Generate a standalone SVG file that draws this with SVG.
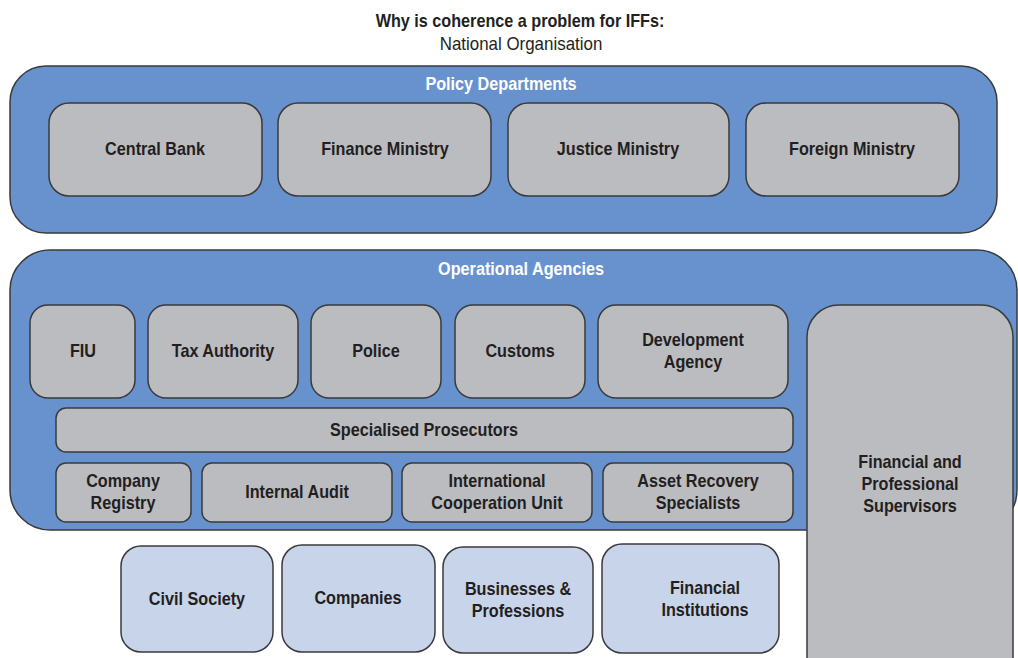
<svg xmlns="http://www.w3.org/2000/svg" width="1018" height="658" viewBox="0 0 1018 658">
  <style>
    .frame { fill: #6792CD; stroke: #3A3A3C; stroke-width: 1.5; }
    .unit { fill: #BBBCC0; stroke: #3A3A3C; stroke-width: 1.5; }
    .ext { fill: #C8D4EA; stroke: #3A3A3C; stroke-width: 1.5; }
    text { font-family: "Liberation Sans", Arial, sans-serif; font-size: 18px; font-weight: bold; fill: #231F20; text-anchor: middle; }
    .head { fill: #FFFFFF; }
    .sub { font-weight: normal; }
  </style>

  <!-- title -->
  <g id="title">
    <text transform="translate(520,27) scale(0.9,1)">Why is coherence a problem for IFFs:</text>
    <text class="sub" transform="translate(521,50) scale(0.94,1)">National Organisation</text>
  </g>

  <!-- policy level -->
  <g id="policy-departments">
    <rect class="frame" x="10" y="66" width="987" height="167" rx="36" ry="36"/>
    <text class="head" transform="translate(501,90) scale(0.9,1)">Policy Departments</text>
  </g>
  <g id="central-bank">
    <rect class="unit" x="49" y="103" width="213" height="93" rx="20" ry="20"/>
    <text transform="translate(155,155) scale(0.9,1)">Central Bank</text>
  </g>
  <g id="finance-ministry">
    <rect class="unit" x="278" y="103" width="213" height="93" rx="20" ry="20"/>
    <text transform="translate(385,155) scale(0.9,1)">Finance Ministry</text>
  </g>
  <g id="justice-ministry">
    <rect class="unit" x="508" y="103" width="221" height="93" rx="20" ry="20"/>
    <text transform="translate(618,155) scale(0.9,1)">Justice Ministry</text>
  </g>
  <g id="foreign-ministry">
    <rect class="unit" x="746" y="103" width="213" height="93" rx="20" ry="20"/>
    <text transform="translate(852,155) scale(0.9,1)">Foreign Ministry</text>
  </g>

  <!-- operational level -->
  <g id="operational-agencies">
    <rect class="frame" x="10" y="250" width="1007" height="280" rx="40" ry="40"/>
    <text class="head" transform="translate(521,275) scale(0.9,1)">Operational Agencies</text>
  </g>
  <g id="fiu">
    <rect class="unit" x="30" y="305" width="105" height="93" rx="18" ry="18"/>
    <text transform="translate(83,357) scale(0.9,1)">FIU</text>
  </g>
  <g id="tax-authority">
    <rect class="unit" x="148" y="305" width="150" height="93" rx="18" ry="18"/>
    <text transform="translate(223,357) scale(0.9,1)">Tax Authority</text>
  </g>
  <g id="police">
    <rect class="unit" x="311" y="305" width="130" height="93" rx="18" ry="18"/>
    <text transform="translate(376,357) scale(0.9,1)">Police</text>
  </g>
  <g id="customs">
    <rect class="unit" x="455" y="305" width="130" height="93" rx="18" ry="18"/>
    <text transform="translate(520,357) scale(0.9,1)">Customs</text>
  </g>
  <g id="development-agency">
    <rect class="unit" x="598" y="305" width="190" height="93" rx="18" ry="18"/>
    <text transform="translate(693,346) scale(0.9,1)"><tspan x="0" y="0">Development</tspan><tspan x="0" y="22">Agency</tspan></text>
  </g>
  <g id="specialised-prosecutors">
    <rect class="unit" x="56" y="408" width="737" height="44" rx="10" ry="10"/>
    <text transform="translate(424,436) scale(0.9,1)">Specialised Prosecutors</text>
  </g>
  <g id="company-registry">
    <rect class="unit" x="56" y="463" width="135" height="59" rx="10" ry="10"/>
    <text transform="translate(123,487) scale(0.9,1)"><tspan x="0" y="0">Company</tspan><tspan x="0" y="22">Registry</tspan></text>
  </g>
  <g id="internal-audit">
    <rect class="unit" x="202" y="463" width="190" height="59" rx="10" ry="10"/>
    <text transform="translate(297,498) scale(0.9,1)">Internal Audit</text>
  </g>
  <g id="international-cooperation-unit">
    <rect class="unit" x="402" y="463" width="190" height="59" rx="10" ry="10"/>
    <text transform="translate(497,487) scale(0.9,1)"><tspan x="0" y="0">International</tspan><tspan x="0" y="22">Cooperation Unit</tspan></text>
  </g>
  <g id="asset-recovery-specialists">
    <rect class="unit" x="603" y="463" width="190" height="59" rx="10" ry="10"/>
    <text transform="translate(698,487) scale(0.9,1)"><tspan x="0" y="0">Asset Recovery</tspan><tspan x="0" y="22">Specialists</tspan></text>
  </g>
  <g id="financial-professional-supervisors">
    <path class="unit" d="M807,670 V337 A32,32 0 0 1 839,305 H981 A32,32 0 0 1 1013,337 V670"/>
    <text transform="translate(910,468) scale(0.9,1)"><tspan x="0" y="0">Financial and</tspan><tspan x="0" y="22">Professional</tspan><tspan x="0" y="44">Supervisors</tspan></text>
  </g>

  <!-- outside actors -->
  <g id="civil-society">
    <rect class="ext" x="121" y="546" width="152" height="106" rx="20" ry="20"/>
    <text transform="translate(197,605) scale(0.9,1)">Civil Society</text>
  </g>
  <g id="companies">
    <rect class="ext" x="282" y="545" width="153" height="107" rx="20" ry="20"/>
    <text transform="translate(358,604) scale(0.9,1)">Companies</text>
  </g>
  <g id="businesses-professions">
    <rect class="ext" x="443" y="547" width="150" height="106" rx="20" ry="20"/>
    <text transform="translate(518,595) scale(0.9,1)"><tspan x="0" y="0">Businesses &amp;</tspan><tspan x="0" y="22">Professions</tspan></text>
  </g>
  <g id="financial-institutions">
    <rect class="ext" x="602" y="544" width="177" height="109" rx="20" ry="20"/>
    <text transform="translate(705,594) scale(0.9,1)"><tspan x="0" y="0">Financial</tspan><tspan x="0" y="22">Institutions</tspan></text>
  </g>

  <!-- no connectors are drawn between the groups -->
  <g id="connectors"/>
</svg>
